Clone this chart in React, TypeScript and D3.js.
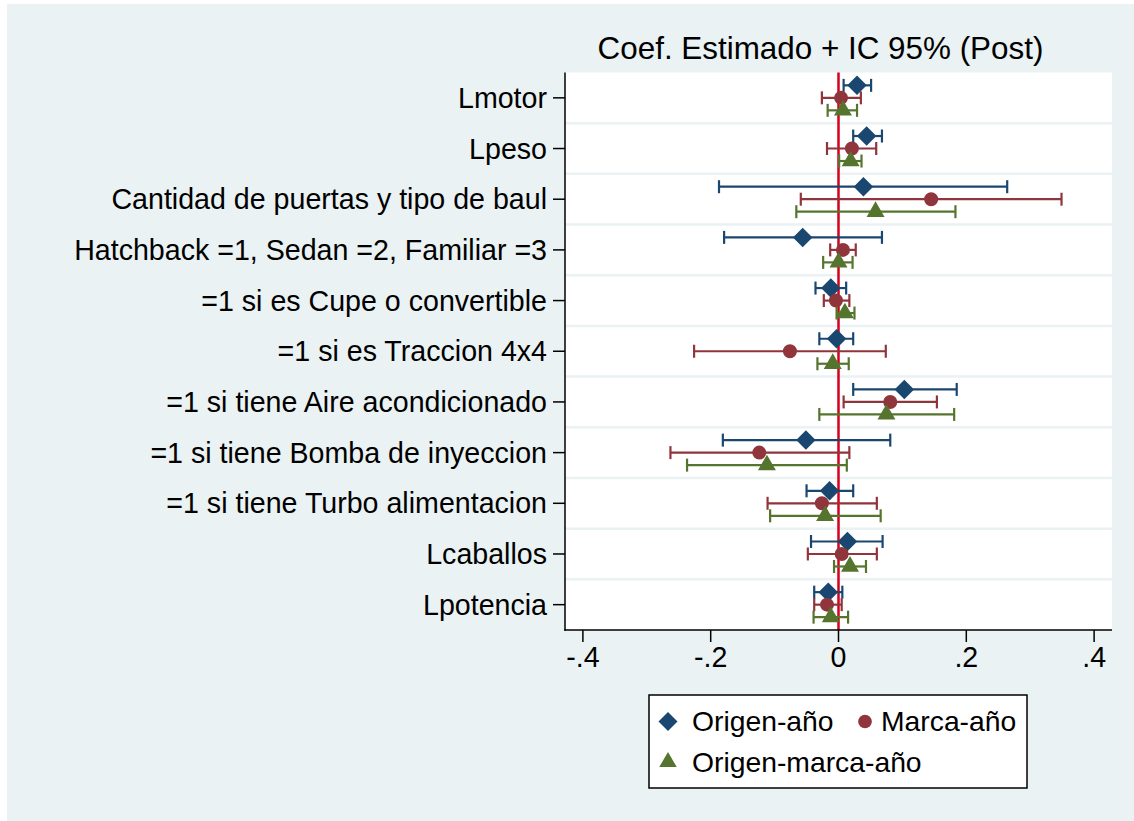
import React, { useRef, useEffect } from "react";
import * as d3 from "d3";

// coefplot data
const categories = [
  "Lmotor",
  "Lpeso",
  "Cantidad de puertas y tipo de baul",
  "Hatchback =1, Sedan =2, Familiar =3",
  "=1 si es Cupe o convertible",
  "=1 si es Traccion 4x4",
  "=1 si tiene Aire acondicionado",
  "=1 si tiene Bomba de inyeccion",
  "=1 si tiene Turbo alimentacion",
  "Lcaballos",
  "Lpotencia",
];

const seriesNames = ["Origen-año", "Marca-año", "Origen-marca-año"];
const seriesColors = ["#1a476f", "#90353b", "#55752f"];

const origenCoef = [0.029, 0.044, 0.039, -0.056, -0.012, -0.003, 0.103, -0.051, -0.014, 0.014, -0.016];
const origenLo = [0.008, 0.023, -0.187, -0.179, -0.036, -0.030, 0.023, -0.181, -0.050, -0.043, -0.038];
const origenHi = [0.051, 0.068, 0.264, 0.068, 0.012, 0.023, 0.185, 0.081, 0.023, 0.069, 0.006];

const marcaCoef = [0.004, 0.021, 0.145, 0.007, -0.004, -0.076, 0.081, -0.124, -0.026, 0.005, -0.018];
const marcaLo = [-0.026, -0.018, -0.059, -0.013, -0.023, -0.226, 0.008, -0.263, -0.111, -0.048, -0.038];
const marcaHi = [0.035, 0.059, 0.349, 0.027, 0.017, 0.074, 0.154, 0.017, 0.060, 0.060, 0.005];

const omCoef = [0.007, 0.019, 0.058, 0.0, 0.010, -0.009, 0.075, -0.112, -0.021, 0.018, -0.012];
const omLo = [-0.017, 0.001, -0.066, -0.024, -0.003, -0.033, -0.030, -0.237, -0.107, -0.007, -0.039];
const omHi = [0.029, 0.036, 0.183, 0.022, 0.025, 0.016, 0.181, 0.013, 0.066, 0.043, 0.015];

const xTicks = [-0.4, -0.2, 0, 0.2, 0.4];
const xTickLabels = ["-.4", "-.2", "0", ".2", ".4"];

interface Est {
  cat: string;
  series: string;
  b: number;
  lo: number;
  hi: number;
}

const FONT = "'Liberation Sans', Arial, Helvetica, sans-serif";

export default function App() {
  const ref = useRef<SVGSVGElement>(null);

  useEffect(() => {
    if (!ref.current) return;
    const svg = d3.select(ref.current);
    svg.selectAll("*").remove();

    const width = 1134;
    const height = 821;
    const plot = { left: 565, right: 1112, top: 72.5, bottom: 630 };

    const coefs = [origenCoef, marcaCoef, omCoef];
    const los = [origenLo, marcaLo, omLo];
    const his = [origenHi, marcaHi, omHi];
    const data: Est[] = [];
    seriesNames.forEach((s, si) => {
      categories.forEach((c, ci) => {
        data.push({ cat: c, series: s, b: coefs[si][ci], lo: los[si][ci], hi: his[si][ci] });
      });
    });

    const x = d3.scaleLinear().domain([-0.428, 0.428]).range([plot.left, plot.right]);
    const y = d3.scaleBand<string>().domain(categories).range([plot.top, plot.bottom]).padding(0);
    const off = d3.scalePoint<string>().domain(seriesNames).range([-12.5, 12.5]);
    const color = d3.scaleOrdinal<string, string>().domain(seriesNames).range(seriesColors);
    const cy = (d: Est) => (y(d.cat) ?? 0) + y.bandwidth() / 2 + (off(d.series) ?? 0);

    const shapes: Record<string, d3.SymbolType> = {
      "Origen-año": d3.symbolSquare,
      "Marca-año": d3.symbolCircle,
      "Origen-marca-año": d3.symbolTriangle,
    };
    const sizes: Record<string, number> = {
      "Origen-año": 190,
      "Marca-año": 154,
      "Origen-marca-año": 140,
    };
    const rot: Record<string, number> = { "Origen-año": 45, "Marca-año": 0, "Origen-marca-año": 0 };

    svg.attr("width", width).attr("height", height);

    // backgrounds
    svg.append("rect").attr("width", width).attr("height", height).attr("fill", "#ffffff");
    svg.append("rect").attr("x", 7).attr("y", 4).attr("width", width - 7).attr("height", height - 4).attr("fill", "#eaf2f3");
    svg
      .append("rect")
      .attr("x", plot.left)
      .attr("y", plot.top)
      .attr("width", plot.right - plot.left)
      .attr("height", plot.bottom - plot.top)
      .attr("fill", "#ffffff");

    // grid lines between categories
    svg
      .append("g")
      .selectAll("line")
      .data(categories.slice(1))
      .enter()
      .append("line")
      .attr("x1", plot.left)
      .attr("x2", plot.right)
      .attr("y1", (d) => y(d) ?? 0)
      .attr("y2", (d) => y(d) ?? 0)
      .attr("stroke", "#eaf2f3")
      .attr("stroke-width", 2.5);

    // reference line at zero
    svg
      .append("line")
      .attr("x1", x(0))
      .attr("x2", x(0))
      .attr("y1", plot.top)
      .attr("y2", plot.bottom)
      .attr("stroke", "#d6001c")
      .attr("stroke-width", 2.5);

    // series
    seriesNames.forEach((s) => {
      const g = svg.append("g");
      const sd = data.filter((d) => d.series === s);
      const col = color(s);
      g.selectAll("line.ci")
        .data(sd)
        .enter()
        .append("line")
        .attr("class", "ci")
        .attr("x1", (d) => x(d.lo))
        .attr("x2", (d) => x(d.hi))
        .attr("y1", cy)
        .attr("y2", cy)
        .attr("stroke", col)
        .attr("stroke-width", 2.2);
      ["lo", "hi"].forEach((k) => {
        g.selectAll(`line.cap-${k}`)
          .data(sd)
          .enter()
          .append("line")
          .attr("class", `cap-${k}`)
          .attr("x1", (d) => x(d[k as "lo" | "hi"]))
          .attr("x2", (d) => x(d[k as "lo" | "hi"]))
          .attr("y1", (d) => cy(d) - 6.5)
          .attr("y2", (d) => cy(d) + 6.5)
          .attr("stroke", col)
          .attr("stroke-width", 2.2);
      });
      g.selectAll("path.mk")
        .data(sd)
        .enter()
        .append("path")
        .attr("class", "mk")
        .attr("d", d3.symbol().type(shapes[s]).size(sizes[s])())
        .attr("transform", (d) => `translate(${x(d.b)},${cy(d)}) rotate(${rot[s]})`)
        .attr("fill", col);
    });

    // y axis
    const ya = svg.append("g");
    ya.append("line")
      .attr("x1", plot.left)
      .attr("x2", plot.left)
      .attr("y1", plot.top)
      .attr("y2", plot.bottom + 0.75)
      .attr("stroke", "#000")
      .attr("stroke-width", 1.5);
    const yt = ya
      .selectAll("g.t")
      .data(categories)
      .enter()
      .append("g")
      .attr("transform", (d) => `translate(0,${(y(d) ?? 0) + y.bandwidth() / 2})`);
    yt.append("line").attr("x1", plot.left - 12).attr("x2", plot.left).attr("stroke", "#000").attr("stroke-width", 1.5);
    yt.append("text")
      .attr("x", plot.left - 18)
      .attr("dy", "0.35em")
      .attr("text-anchor", "end")
      .attr("font-family", FONT)
      .attr("font-size", 28.6)
      .attr("fill", "#000")
      .text((d) => d);

    // x axis
    const xa = svg.append("g");
    xa.append("line")
      .attr("x1", plot.left - 0.75)
      .attr("x2", plot.right)
      .attr("y1", plot.bottom)
      .attr("y2", plot.bottom)
      .attr("stroke", "#000")
      .attr("stroke-width", 1.5);
    const xt = xa
      .selectAll("g.t")
      .data(xTicks)
      .enter()
      .append("g")
      .attr("transform", (d) => `translate(${x(d)},${plot.bottom})`);
    xt.append("line").attr("y1", 0).attr("y2", 12).attr("stroke", "#000").attr("stroke-width", 1.5);
    xt.append("text")
      .attr("y", 37)
      .attr("text-anchor", "middle")
      .attr("font-family", FONT)
      .attr("font-size", 28.6)
      .attr("fill", "#000")
      .text((_d, i) => xTickLabels[i]);

    // title
    svg
      .append("text")
      .attr("x", 820.5)
      .attr("y", 59)
      .attr("text-anchor", "middle")
      .attr("font-family", FONT)
      .attr("font-size", 31.4)
      .attr("fill", "#000")
      .text("Coef. Estimado + IC 95% (Post)");

    // legend
    const lg = svg.append("g");
    lg.append("rect")
      .attr("x", 649)
      .attr("y", 695)
      .attr("width", 378)
      .attr("height", 93)
      .attr("fill", "#fff")
      .attr("stroke", "#000")
      .attr("stroke-width", 1.5);
    const legendPos = [
      { sx: 668, tx: 692, ty: 721.5 },
      { sx: 865, tx: 881, ty: 721.5 },
      { sx: 668, tx: 692, ty: 762 },
    ];
    seriesNames.forEach((s, i) => {
      const p = legendPos[i];
      lg.append("path")
        .attr("d", d3.symbol().type(shapes[s]).size(sizes[s] * 0.95)())
        .attr("transform", `translate(${p.sx},${p.ty}) rotate(${rot[s]})`)
        .attr("fill", color(s));
      lg.append("text")
        .attr("x", p.tx)
        .attr("y", p.ty)
        .attr("dy", "0.35em")
        .attr("font-family", FONT)
        .attr("font-size", 28.3)
        .attr("fill", "#000")
        .text(s);
    });
  }, []);

  return (
    <svg
      ref={ref}
      width={1134}
      height={821}
      style={{ position: "absolute", left: 0, top: 0, display: "block" }}
    ></svg>
  );
}
